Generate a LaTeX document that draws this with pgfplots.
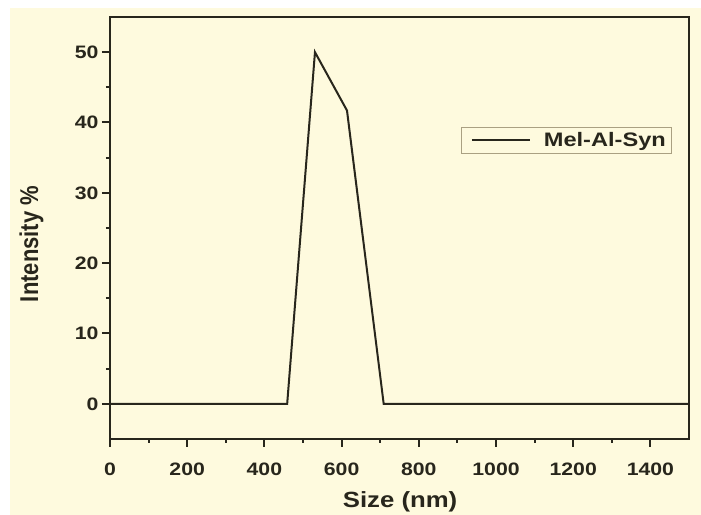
\documentclass[border=0pt]{standalone}
\usepackage{fontspec}
\setmainfont{Liberation Sans}
\usepackage{graphicx}
\usepackage{pgfplots}
\pgfplotsset{compat=1.18}
\definecolor{cream}{RGB}{254,250,222}
\definecolor{ink}{RGB}{40,38,28}
\definecolor{legbord}{RGB}{170,160,130}
\begin{document}
\begin{tikzpicture}[x=1bp,y=1bp]
\path[use as bounding box] (-110,-76) rectangle (591,439);
\fill[white] (-110,-76) rectangle (591,439);
\fill[cream] (-100,-76) rectangle (591,431);
\begin{axis}[
  at={(0,0)}, anchor=south west,
  width=579bp, height=422bp, scale only axis,
  xmin=0, xmax=1500, ymin=-5, ymax=55,
  xtick={0,200,...,1400}, ytick={0,10,...,50},
  minor x tick num=1, minor y tick num=1,
  tick pos=left, tick align=outside,
  major tick length=8bp, minor tick length=4bp,
  axis line style={ink, line width=2bp},
  tick style={ink, line width=2bp},
  font=\fontsize{18bp}{20bp}\selectfont\bfseries,
  /pgf/number format/assume math mode=true,
  /pgf/number format/1000 sep={},
  xticklabel={\scalebox{1.18}[1]{\pgfmathprintnumber[assume math mode=true]{\tick}}},
  yticklabel={\scalebox{1.18}[1]{\pgfmathprintnumber[assume math mode=true]{\tick}}},
  xticklabel style={anchor=base, yshift=-29bp, text=ink},
  yticklabel style={anchor=east, text=ink},
  xlabel={\fontsize{22bp}{24bp}\selectfont\bfseries\scalebox{1.17}[1]{Size (nm)}},
  ylabel={\fontsize{22bp}{24bp}\selectfont\bfseries\scalebox{1}[1.17]{Intensity \%}},
  xlabel style={at={(axis description cs:0.501,-0.1635)}, anchor=base, text=ink},
  ylabel style={at={(axis description cs:-0.124,0.462)}, anchor=base, rotate=0, text=ink},
  legend style={at={(0.971,0.739)}, anchor=north east, draw=legbord, line width=0.8bp,
    fill=cream, inner xsep=4bp, inner ysep=3bp, font=\fontsize{19.5bp}{21bp}\selectfont\bfseries, text=ink},
  legend image code/.code={\path (0bp,0bp); \draw[ink, line width=2bp] (6bp,0bp) -- (64bp,0bp); \path (75bp,0bp);},
]
\addplot[ink, line width=2bp] coordinates {(0,0) (459,0) (531,50) (614,41.7) (709,0) (1500,0)};
\addlegendentry{\scalebox{1.21}[1]{Mel-Al-Syn}}
\end{axis}
\end{tikzpicture}
\end{document}
